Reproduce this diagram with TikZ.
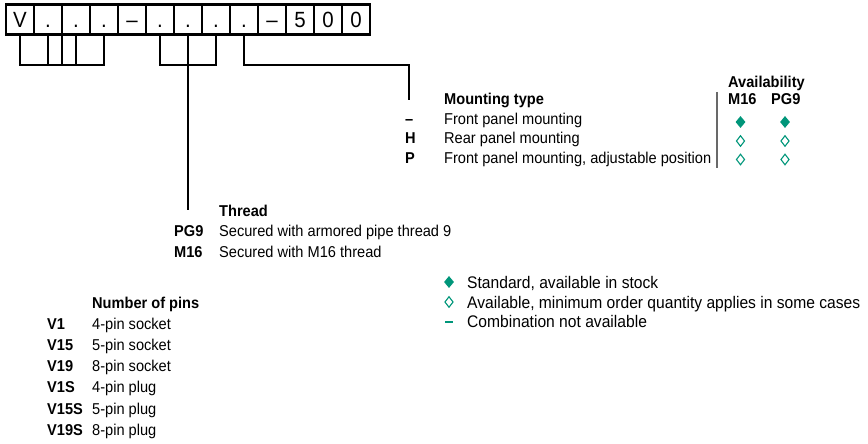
\documentclass[tikz,border=0pt]{standalone}
\usepackage{fontspec}
\setmainfont{Liberation Sans}[FakeStretch=0.93]
\usetikzlibrary{calc,shapes.geometric}
\definecolor{AvailClr}{RGB}{0,150,122}
\definecolor{SepClr}{RGB}{105,105,105}

\begin{document}
\begin{tikzpicture}[x=1pt,y=-1pt,
  cell/.style={draw,line width=2.4pt,minimum width=28pt,minimum height=30pt,inner sep=0pt,
    text height=16pt,text depth=0pt,font=\fontsize{22}{22}\selectfont},
  brk/.style={line width=1.1pt},
  txt/.style={anchor=base west,inner sep=0pt,font=\fontsize{15.7}{17}\selectfont},
  code/.style={anchor=base west,inner sep=0pt,font=\fontsize{15.7}{17}\selectfont\bfseries},
  legtxt/.style={anchor=base west,inner sep=0pt,font=\fontsize{16.8}{18}\selectfont},
  fulldia/.style={diamond,fill=AvailClr,inner sep=0pt,minimum width=10pt,minimum height=12pt},
  opendia/.style={diamond,draw=AvailClr,line width=1.1pt,inner sep=0pt,minimum width=8.5pt,minimum height=11pt}]
\useasboundingbox (0,0) rectangle (868,444);

% order code boxes
\foreach \t [count=\i] in {V,.,.,.,--,.,.,.,.,--,5,0,0}
  \node[cell] (b\i) at ({28*\i-8},19.5) {\t};

\coordinate (lvl) at (0,65);
\coordinate (mntcorner) at (409,65);

% number of pins
\node[code] (pinshead) at (92,308) {Number of pins};
\foreach \c/\d [count=\i] in {V1/4-pin socket,V15/5-pin socket,V19/8-pin socket,V1S/4-pin plug,V15S/5-pin plug,V19S/8-pin plug}{
  \node[code] (pc\i) at (47,{308+21.2*\i}) {\c};
  \node[txt] (pd\i) at (92,{308+21.2*\i}) {\d};
}

% thread
\node[code] (thrhead) at (219,216) {Thread};
\node[code] (thrc1) at (174,236.5) {PG9};
\node[txt] (thrd1) at (219,236.5) {Secured with armored pipe thread 9};
\node[code] (thrc2) at (174,257) {M16};
\node[txt] (thrd2) at (219,257) {Secured with M16 thread};

% mounting type
\node[code] (mnthead) at (444,104.5) {Mounting type};
\foreach \c/\d [count=\i] in {--/Front panel mounting,H/Rear panel mounting,P/{Front panel mounting, adjustable position}}{
  \node[code] (mc\i) at (405,{104.5+19.6*\i}) {\c};
  \node[txt] (md\i) at (444,{104.5+19.6*\i}) {\d};
}

% availability
\node[code] (avhead) at (728,88) {Availability};
\node[code] (avm) at (728,104.5) {M16};
\node[code] (avp) at (771,104.5) {PG9};
\coordinate (septop) at (717,92);
\coordinate (sepbot) at (717,168);
\draw[SepClr,line width=1.5pt] (septop) -- (sepbot);
\node[fulldia] (a11) at (740.5,122) {};
\node[fulldia] (a12) at (785,122) {};
\node[opendia] (a21) at (740.5,141) {};
\node[opendia] (a22) at (785,141) {};
\node[opendia] (a31) at (740.5,159.5) {};
\node[opendia] (a32) at (785,159.5) {};

% legend
\node[fulldia] (lg1) at (449,282) {};
\node[opendia] (lg2) at (449,302) {};
\node[fill=AvailClr,inner sep=0pt,minimum width=8pt,minimum height=2pt] (lg3) at (449,321.5) {};
\node[legtxt] (lt1) at (467,288) {Standard, available in stock};
\node[legtxt] (lt2) at (467,308) {Available, minimum order quantity applies in some cases};
\node[legtxt] (lt3) at (467,327.5) {Combination not available};

% brackets
\draw[brk] (b1.south) -- (b1.south|-lvl) -- (b4.south|-lvl) -- (b4.south);
\draw[brk] (b2.south) -- (b2.south|-lvl);
\draw[brk] (b3.south) -- (b3.south|-lvl);
\draw[brk] ($(b2.south|-lvl)!.5!(b3.south|-lvl)$) -- ($(b2.south)!.5!(b3.south)$ |- pinshead.west);
\draw[brk] (b6.south) -- (b6.south|-lvl) -- (b8.south|-lvl) -- (b8.south);
\draw[brk] (b7.south) -- (b7.south|-thrhead.west);
\draw[brk] (b9.south) |- (mntcorner) -- (mntcorner|-mnthead.west);

\end{tikzpicture}
\end{document}
